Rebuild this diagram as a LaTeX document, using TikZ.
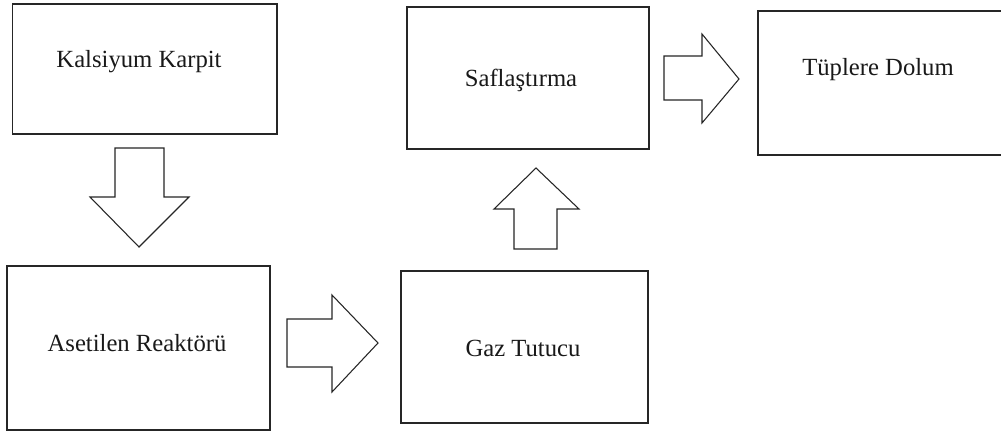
\documentclass[tikz,border=0pt]{standalone}
\usepackage{fontspec}
\setmainfont{Liberation Serif}
\begin{document}
\begin{tikzpicture}[x=0.75pt,y=-0.75pt,
  boxstyle/.style={draw=black!85,line width=0.9pt,fill=white,inner sep=0pt,rectangle},
  lbl/.style={font=\fontsize{18.5}{20}\selectfont,text=black!90,inner sep=0pt,anchor=center},
  blockarrow/.style={draw=black!85,line width=0.8pt,fill=white,line join=miter}]
\useasboundingbox[fill=white] (0,0) rectangle (1001,432);
% boxes
\node[boxstyle,minimum width=198.4pt,minimum height=97.5pt] (kk) at (144.75,69) {};
\node[boxstyle,minimum width=197.25pt,minimum height=123pt] (ar) at (138.5,348) {};
\node[boxstyle,minimum width=181.5pt,minimum height=106.5pt] (sf) at (528,78) {};
\node[boxstyle,minimum width=185.25pt,minimum height=114pt] (gt) at (524.5,347) {};
\node[boxstyle,minimum width=189pt,minimum height=108pt] (td) at (884,83) {};
% labels
\node[lbl] (t1) at (139,62) {Kalsiyum Karpit};
\node[lbl] (t2) at (137,343) {Asetilen Reaktörü};
\node[lbl] (t3) at (521,80) {Saflaştırma};
\node[lbl] (t4) at (523,348) {Gaz Tutucu};
\node[lbl] (t5) at (878,70) {Tüplere Dolum};
% block arrows
\draw[blockarrow] (115,148) -- (164,148) -- (164,197) -- (189,197) -- (139,247) -- (90,197) -- (115,197) -- cycle;
\draw[blockarrow] (287,319) -- (332,319) -- (332,295) -- (378,343) -- (332,392) -- (332,367) -- (287,367) -- cycle;
\draw[blockarrow] (514,249) -- (514,209) -- (494,209) -- (536,168) -- (579,209) -- (557,209) -- (557,249) -- cycle;
\draw[blockarrow] (664,56) -- (702,56) -- (702,34) -- (739,79) -- (702,123) -- (702,100) -- (664,100) -- cycle;
\end{tikzpicture}
\end{document}
